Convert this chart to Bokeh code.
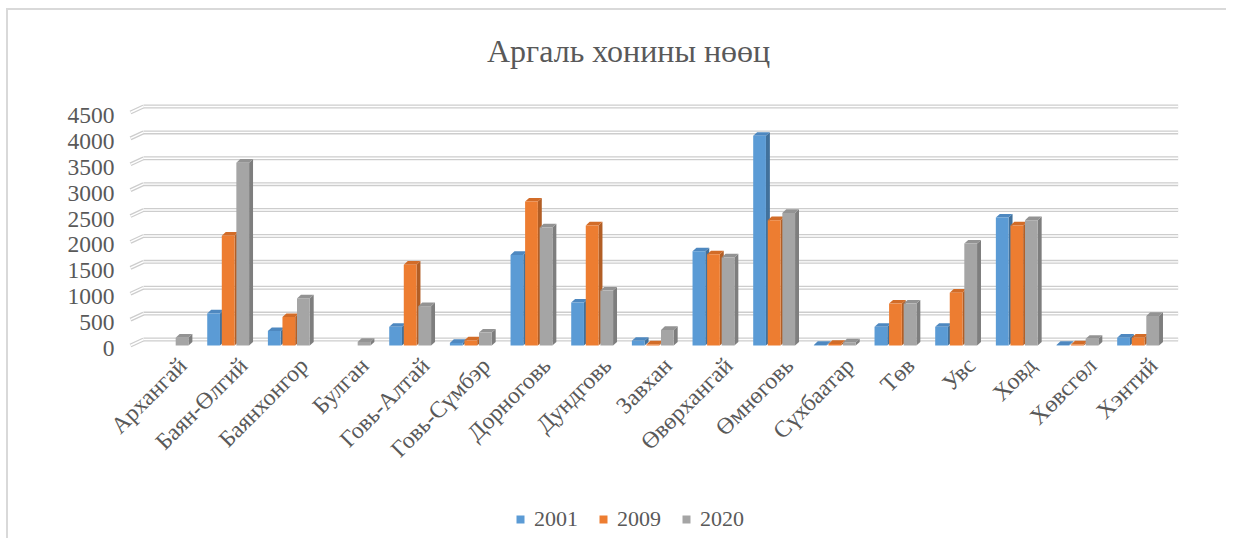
import numpy as np
from bokeh.plotting import figure
from bokeh.models import Range1d, Legend, LegendItem, Label, ColumnDataSource
from bokeh.core.properties import value
from bokeh.embed import file_html
from bokeh.resources import INLINE

categories = ["Архангай", "Баян-Өлгий", "Баянхонгор", "Булган", "Говь-Алтай",
              "Говь-Сүмбэр", "Дорноговь", "Дундговь", "Завхан", "Өвөрхангай",
              "Өмнөговь", "Сүхбаатар", "Төв", "Увс", "Ховд", "Хөвсгөл", "Хэнтий"]
years = ["2001", "2009", "2020"]
v2001 = [0, 620, 280, 0, 360, 50, 1750, 830, 90, 1820, 4050, 10, 360, 360, 2470, 10, 150]
v2009 = [0, 2120, 550, 0, 1560, 100, 2780, 2320, 20, 1760, 2420, 30, 810, 1020, 2320, 20, 150]
v2020 = [150, 3530, 910, 70, 760, 250, 2280, 1060, 300, 1700, 2560, 60, 810, 1970, 2420, 130, 570]
y_ticks = [0, 500, 1000, 1500, 2000, 2500, 3000, 3500, 4000, 4500]
y_labels = [str(t) for t in y_ticks]
title_text = "Аргаль хонины нөөц"

front_colors = ["#5B9BD5", "#ED7D31", "#A5A5A5"]
side_colors = ["#41719C", "#B25E25", "#7E7E7E"]
top_colors = ["#4E88C0", "#D26C28", "#939393"]

FONT = "Liberation Serif"
TXT = "#595959"

p = figure(width=1220, height=530, output_backend="svg", toolbar_location=None,
           x_range=Range1d(-2.621, 17.49), y_range=Range1d(-3766, 6470),
           min_border_left=0, min_border_right=0, min_border_top=0,
           min_border_bottom=0)
p.styles = {"border-left": "2px solid #d9d9d9", "border-top": "2px solid #d9d9d9",
            "margin-left": "6px", "margin-top": "8px"}
p.outline_line_color = None
p.xgrid.grid_line_color = None
p.ygrid.grid_line_color = None
p.xaxis.visible = False
p.yaxis.visible = False

# 3D-looking gridlines: slanted stub at the front, horizontal line at the back
depth_x = 0.214
depth_y = 116
gx0 = -0.61
gx1 = gx0 + depth_x
gx2 = 16.66
gy = np.array(y_ticks, dtype=float)
for lw, col in [(4, "#cdcdcd"), (1.4, "white")]:
    p.segment(x0=[gx1] * len(gy), y0=gy + depth_y, x1=[gx2] * len(gy), y1=gy + depth_y,
              line_color=col, line_width=lw)
    p.segment(x0=[gx0] * len(gy), y0=gy, x1=[gx1] * len(gy), y1=gy + depth_y,
              line_color=col, line_width=lw)

# y tick labels
ysrc = ColumnDataSource(dict(x=[gx0] * len(y_ticks), y=y_ticks, t=y_labels))
p.text(x="x", y="y", text="t", source=ysrc, text_align="right", text_baseline="middle",
       x_offset=-16, y_offset=3, text_font=value(FONT), text_font_size="23.5px",
       text_color=TXT)

series = [v2001, v2009, v2020]
offsets = [-0.24, 0.0, 0.24]
bw = 0.21
dx = 0.065
dy = 70

items = []
for k, vals in enumerate(series):
    xs = np.arange(len(categories)) + offsets[k]
    vals = np.array(vals, dtype=float)
    mask = vals > 0
    xl = xs[mask] - bw / 2
    xr = xs[mask] + bw / 2
    v = vals[mask]
    p.patches(xs=[[a, a + dx, a + dx, a] for a in xr],
              ys=[[0, dy, b + dy, b] for b in v],
              fill_color=side_colors[k], line_color=None)
    p.patches(xs=[[a, a + dx, c + dx, c] for a, c in zip(xl, xr)],
              ys=[[b, b + dy, b + dy, b] for b in v],
              fill_color=top_colors[k], line_color=None)
    r = p.quad(left=xl, right=xr, bottom=0, top=v, fill_color=front_colors[k],
               line_color=None)
    items.append(LegendItem(label=years[k], renderers=[r]))

# category labels
src = ColumnDataSource(dict(x=list(range(len(categories))), y=[0] * len(categories),
                            t=categories))
p.text(x="x", y="y", text="t", source=src, angle=np.pi / 4, text_align="right",
       text_baseline="middle", x_offset=15, y_offset=16,
       text_font=value(FONT), text_font_size="23.5px", text_color=TXT)

# title
p.add_layout(Label(x=7.6, y=5697, text=title_text, text_align="center",
                   text_baseline="middle", text_font=FONT, text_font_size="32px",
                   text_color=TXT))

legend = Legend(items=items, orientation="horizontal", location=(507, 8),
                label_text_font=FONT, label_text_font_size="22px",
                label_text_color=TXT, glyph_width=10, glyph_height=10,
                spacing=20, label_standoff=9, border_line_color=None,
                background_fill_alpha=0, margin=0, padding=0)
p.add_layout(legend, "center")

open("out.html", "w").write(file_html(p, INLINE))
